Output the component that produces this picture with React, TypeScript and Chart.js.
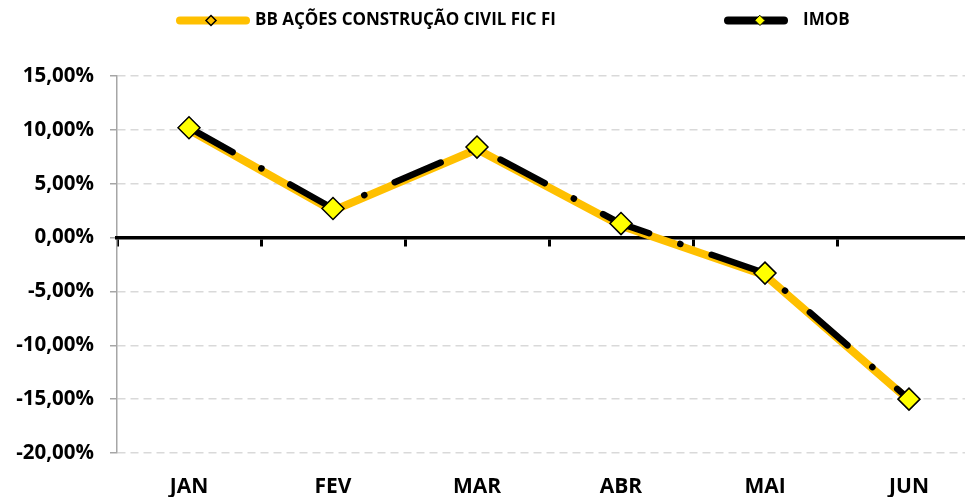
import React, { useEffect, useRef } from 'react';
import { Chart, registerables } from 'chart.js';

Chart.register(...registerables);

const categories = ['JAN', 'FEV', 'MAR', 'ABR', 'MAI', 'JUN'];
const bbValues = [10.0, 2.5, 8.2, 1.1, -3.5, -15.1];
const imobValues = [10.2, 2.7, 8.4, 1.3, -3.3, -15.0];
const seriesNames = ['BB AÇÕES CONSTRUÇÃO CIVIL FIC FI', 'IMOB'];
const yMin = -20;
const yMax = 15;
const yStep = 5;

const ORANGE = '#FFC000';
const YELLOW = '#FFFF00';
const FONT = "'Open Sans', 'DejaVu Sans', sans-serif";

function fmtPct(v: number): string {
  return v.toFixed(2).replace('.', ',') + '%';
}

function diamond(ctx: CanvasRenderingContext2D, x: number, y: number, r: number, fill: string, lw: number) {
  ctx.beginPath();
  ctx.moveTo(x, y - r);
  ctx.lineTo(x + r, y);
  ctx.lineTo(x, y + r);
  ctx.lineTo(x - r, y);
  ctx.closePath();
  ctx.fillStyle = fill;
  ctx.fill();
  ctx.lineWidth = lw;
  ctx.strokeStyle = '#000';
  ctx.stroke();
}

const legendPlugin = {
  id: 'customLegend',
  afterDraw(chart: any) {
    const ctx: CanvasRenderingContext2D = chart.ctx;
    ctx.save();
    const y = 20.5;
    ctx.lineCap = 'round';
    // BB item
    ctx.lineWidth = 8;
    ctx.strokeStyle = ORANGE;
    ctx.beginPath();
    ctx.moveTo(180, y);
    ctx.lineTo(246, y);
    ctx.stroke();
    diamond(ctx, 211, y, 5, ORANGE, 1.5);
    // IMOB item
    ctx.lineWidth = 8;
    ctx.strokeStyle = '#000';
    ctx.beginPath();
    ctx.moveTo(728, y);
    ctx.lineTo(784, y);
    ctx.stroke();
    diamond(ctx, 760, y, 5, YELLOW, 1);
    ctx.fillStyle = '#000';
    ctx.font = `bold 17px ${FONT}`;
    ctx.textBaseline = 'middle';
    ctx.textAlign = 'left';
    ctx.fillText(seriesNames[0], 255, y);
    ctx.fillText(seriesNames[1], 803, y);
    ctx.restore();
  },
};

export default function App() {
  const ref = useRef<HTMLCanvasElement | null>(null);

  useEffect(() => {
    if (!ref.current) return;
    const chart = new Chart(ref.current, {
      type: 'line',
      data: {
        labels: categories,
        datasets: [
          {
            label: seriesNames[0],
            data: bbValues,
            xAxisID: 'x',
            yAxisID: 'y',
            order: 1,
            borderColor: ORANGE,
            borderWidth: 8,
            borderCapStyle: 'round',
            borderJoinStyle: 'round',
            pointStyle: 'rectRot',
            pointRadius: 5,
            pointBackgroundColor: ORANGE,
            pointBorderColor: '#000',
            pointBorderWidth: 1.5,
            tension: 0,
          },
          {
            label: seriesNames[1],
            data: imobValues,
            xAxisID: 'x',
            yAxisID: 'y',
            order: 0,
            borderColor: '#000',
            borderWidth: 6.5,
            borderDash: [50, 33, 0.1, 33],
            borderCapStyle: 'round',
            borderJoinStyle: 'round',
            pointStyle: 'rectRot',
            pointRadius: 11,
            pointBackgroundColor: YELLOW,
            pointBorderColor: '#000',
            pointBorderWidth: 1.5,
            tension: 0,
          },
        ],
      },
      options: {
        responsive: false,
        animation: false,
        devicePixelRatio: 1,
        layout: { padding: { top: 76, right: 19, left: 0, bottom: 0 } },
        plugins: {
          legend: { display: false },
          tooltip: { enabled: false },
        },
        scales: {
          y: {
            type: 'linear',
            position: 'left',
            min: yMin,
            max: yMax,
            ticks: {
              stepSize: yStep,
              padding: 16,
              color: '#000',
              font: { family: FONT, size: 20.5, weight: 'bold' },
              callback: (v: any) => fmtPct(Number(v)),
            },
            grid: {
              color: (c: any) => (c.tick && c.tick.value === 0 ? 'rgba(0,0,0,0)' : '#d9d9d9'),
              lineWidth: 1.5,
              tickColor: '#a6a6a6',
              tickLength: 7,
              tickWidth: 1.5,
              tickBorderDash: [],
            },
            border: { color: '#a6a6a6', width: 1.5, dash: [8, 5] },
            afterFit: (s: any) => {
              s.width = 117;
            },
          },
          x: {
            type: 'category',
            position: { y: 0 },
            offset: true,
            ticks: { display: false },
            grid: {
              display: true,
              offset: true,
              drawOnChartArea: false,
              drawTicks: true,
              tickLength: 7,
              tickColor: '#000',
              tickWidth: 3,
            },
            border: { color: '#000', width: 3.5 },
          },
          x2: {
            type: 'category',
            position: 'bottom',
            offset: true,
            grid: { display: false, drawTicks: false },
            border: { display: false },
            ticks: {
              padding: 21,
              color: '#000',
              font: { family: FONT, size: 21, weight: 'bold' },
              maxRotation: 0,
              autoSkip: false,
            },
            afterFit: (s: any) => {
              s.height = 44;
            },
          },
        },
      },
      plugins: [legendPlugin],
    } as any);
    return () => chart.destroy();
  }, []);

  return (
    <div
      style={{
        position: 'fixed',
        left: 0,
        top: 0,
        width: 965,
        height: 497,
        overflow: 'hidden',
        background: '#fff',
      }}
    >
      <canvas ref={ref} width={1000} height={497} style={{ display: 'block', width: 1000, height: 497 }} />
    </div>
  );
}
